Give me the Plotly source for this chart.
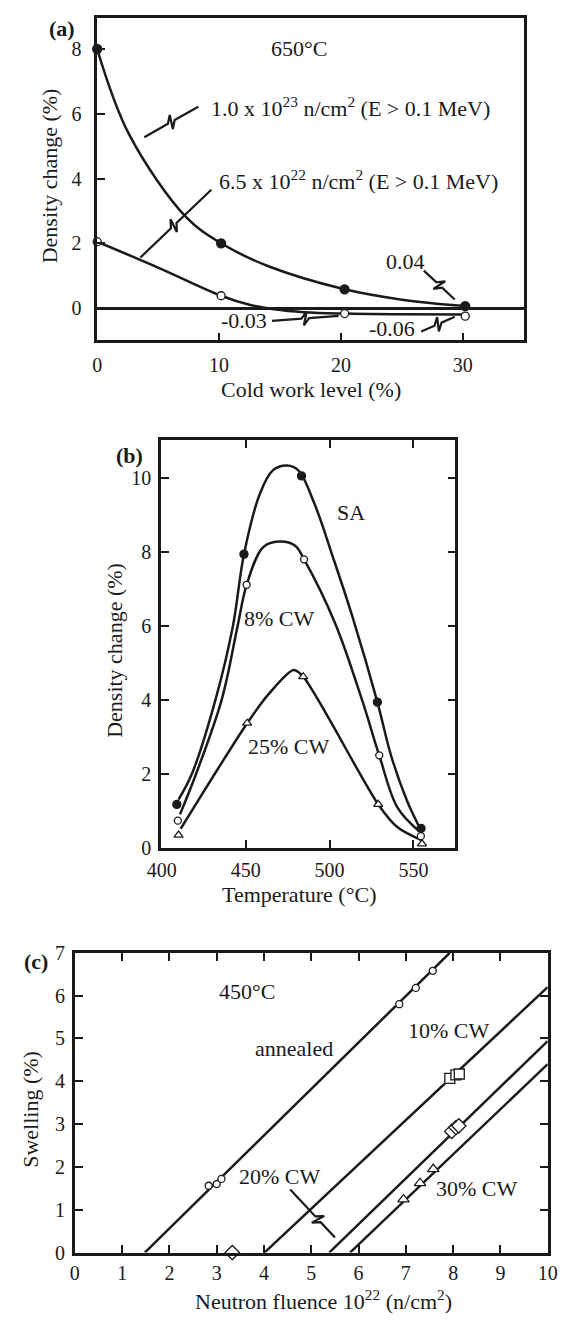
import plotly.graph_objects as go

W, H = 574, 1327
FONT = "Liberation Serif"
INK = "#1a1a1a"

# ---------------- Panel (a): density change vs cold work, 650C ----------------
a_cw = [0, 10.17, 20.3, 30.2]
a_hi = [8.0, 2.0, 0.58, 0.06]        # 1.0e23 n/cm2 (filled)
a_lo = [2.05, 0.38, -0.17, -0.25]    # 6.5e22 n/cm2 (open)
a_hi_curve_x = [0, 2.61, 7.34, 10.17, 14.0, 20.3, 25.0, 30.2]
a_hi_curve_y = [8.0, 5.37, 2.79, 2.0, 1.3, 0.58, 0.26, 0.06]
a_lo_curve_x = [0, 5.0, 10.17, 12.5, 14.5, 17.0, 20.3, 25.0, 30.2]
a_lo_curve_y = [2.05, 1.25, 0.38, 0.1, -0.04, -0.13, -0.17, -0.19, -0.2]

# ---------------- Panel (b): density change vs temperature ----------------
b_sa_t = [409.0, 449.0, 483.3, 528.5, 554.5]
b_sa = [1.17, 7.95, 10.07, 3.94, 0.52]
b_cw8_t = [409.6, 450.6, 484.8, 529.6, 554.4]
b_cw8 = [0.73, 7.12, 7.81, 2.50, 0.31]
b_cw25_t = [410.0, 450.9, 484.3, 529.0, 555.1]
b_cw25 = [0.34, 3.37, 4.63, 1.17, 0.1]
b_sa_curve_x = [410, 418, 432, 442.4, 449, 458.6, 466.2, 474.7, 481.4, 490.9, 502.3, 513.8, 528.5, 536.6, 546.2, 553]
b_sa_curve_y = [1.30, 2.0, 4.0, 6.0, 7.95, 9.6, 10.22, 10.35, 10.22, 9.33, 7.83, 6.23, 3.94, 2.5, 1.26, 0.6]
b_cw8_curve_x = [410.9, 420.5, 435.7, 445.2, 450.6, 460.5, 470.0, 479.5, 484.8, 503.3, 519.5, 529.6, 540.5, 553.4]
b_cw8_curve_y = [0.90, 2.0, 4.0, 6.0, 7.12, 8.14, 8.29, 8.18, 7.81, 6.08, 3.98, 2.50, 1.08, 0.44]
b_cw25_curve_x = [411.3, 450.9, 464.3, 478.6, 484.3, 529.0, 540.5, 554.7]
b_cw25_curve_y = [0.51, 3.37, 4.19, 4.81, 4.63, 1.17, 0.55, 0.2]

# ---------------- Panel (c): swelling vs neutron fluence, 450C ----------------
c_ann_x = [2.83, 3.0, 3.10, 6.86, 7.21, 7.57]
c_ann_y = [1.56, 1.60, 1.72, 5.80, 6.18, 6.58]
c_cw10_x = [7.93, 8.06, 8.13]
c_cw10_y = [4.07, 4.15, 4.17]
c_cw20_x = [3.33, 7.97, 8.06, 8.12]
c_cw20_y = [0.0, 2.83, 2.92, 2.96]
c_cw30_x = [6.95, 7.30, 7.58]
c_cw30_y = [1.24, 1.62, 1.95]
c_ann_line_x, c_ann_line_y = [1.48, 7.93], [0.0, 7.0]
c_cw10_line_x, c_cw10_line_y = [4.01, 10.0], [0.0, 6.2]
c_cw20_line_x, c_cw20_line_y = [5.38, 10.0], [0.0, 4.94]
c_cw30_line_x, c_cw30_line_y = [5.82, 10.0], [0.0, 4.40]

fig = go.Figure()

LW = 2.5

def line(x, y, xa, ya, shape="spline", smoothing=1.0):
    fig.add_trace(go.Scatter(x=x, y=y, mode="lines", xaxis=xa, yaxis=ya,
                             line=dict(color=INK, width=LW, shape=shape, smoothing=smoothing),
                             hoverinfo="skip", showlegend=False, cliponaxis=False))

def marks(x, y, xa, ya, symbol, size, fill):
    fig.add_trace(go.Scatter(x=x, y=y, mode="markers", xaxis=xa, yaxis=ya,
                             marker=dict(symbol=symbol, size=size, color=fill,
                                         line=dict(color=INK, width=1.3)),
                             showlegend=False, cliponaxis=False))

# (a)
line(a_hi_curve_x, a_hi_curve_y, "x", "y")
line(a_lo_curve_x, a_lo_curve_y, "x", "y")
marks(a_cw, a_hi, "x", "y", "circle", 9, INK)
marks(a_cw, a_lo, "x", "y", "circle", 8, "white")

# (b)
line(b_sa_curve_x, b_sa_curve_y, "x2", "y2")
line(b_cw8_curve_x, b_cw8_curve_y, "x2", "y2")
line(b_cw25_curve_x, b_cw25_curve_y, "x2", "y2", smoothing=0.8)
marks(b_sa_t, b_sa, "x2", "y2", "circle", 8, INK)
marks(b_cw8_t, b_cw8, "x2", "y2", "circle", 7, "white")
marks(b_cw25_t, b_cw25, "x2", "y2", "triangle-up", 8, "white")

# (c)
line(c_ann_line_x, c_ann_line_y, "x3", "y3", shape="linear")
line(c_cw10_line_x, c_cw10_line_y, "x3", "y3", shape="linear")
line(c_cw20_line_x, c_cw20_line_y, "x3", "y3", shape="linear")
line(c_cw30_line_x, c_cw30_line_y, "x3", "y3", shape="linear")
marks(c_ann_x, c_ann_y, "x3", "y3", "circle", 7, "white")
marks(c_cw10_x, c_cw10_y, "x3", "y3", "square", 10, "white")
marks(c_cw20_x, c_cw20_y, "x3", "y3", "diamond", 11, "white")
marks(c_cw30_x, c_cw30_y, "x3", "y3", "triangle-up", 10, "white")

# page pixel -> paper coordinates
def PX(px):
    return px / W

def PY(py):
    return 1 - py / H

def clamp(v):
    return min(1.0, max(0.0, v))

def dom_x(l, r):
    return [clamp(PX(l)), clamp(PX(r))]

def dom_y(t, b):
    return [clamp(PY(b)), clamp(PY(t))]

tickfont = dict(family=FONT, size=20, color=INK)

def axis(domain, rng, tickvals, anchor, mirror, standoff, **kw):
    d = dict(domain=domain, range=rng, tickvals=tickvals, anchor=anchor,
             showline=True, linecolor=INK, linewidth=LW, mirror=mirror,
             ticks="inside", ticklen=8, tickwidth=2, tickcolor=INK,
             showgrid=False, zeroline=False, tickfont=tickfont, fixedrange=True,
             ticklabelstandoff=standoff)
    d.update(kw)
    return d

fig.update_layout(
    width=W, height=H, margin=dict(l=0, r=0, t=0, b=0),
    paper_bgcolor="white", plot_bgcolor="white", showlegend=False,
    xaxis=axis(dom_x(86.8, 532), [0, 35], [0, 10, 20, 30], "y", True, 5),
    yaxis=axis(dom_y(6.7, 335), [-1.0, 8.97], [0, 2, 4, 6, 8], "x", True, 9,
               zeroline=True, zerolinecolor=INK, zerolinewidth=LW),
    xaxis2=axis(dom_x(153.3, 460.7), [399.5, 575], [400, 450, 500, 550], "y2", "allticks", 3),
    yaxis2=axis(dom_y(436.7, 850.7), [0, 11.03], [0, 2, 4, 6, 8, 10], "x2", "allticks", 3),
    xaxis3=axis(dom_x(63.5, 557), [0, 10], list(range(0, 11)), "y3", "allticks", 1),
    yaxis3=axis(dom_y(957.7, 1262.5), [0, 7], list(range(0, 8)), "x3", "allticks", 3),
)

def px_ann(text, x, y, size=22, bold=False, xanchor="center", angle=0):
    if bold:
        text = "<b>" + text + "</b>"
    fig.add_annotation(text=text, x=PX(x), y=PY(y), xref="paper", yref="paper",
                       showarrow=False, xanchor=xanchor, yanchor="middle", textangle=angle,
                       font=dict(family=FONT, size=size, color=INK))

# panel labels
px_ann("(a)", 50, 18, bold=True)
px_ann("(b)", 121, 452, bold=True)
px_ann("(c)", 22.5, 967, bold=True)

# axis titles
px_ann("Cold work level (%)", 309.5, 385)
px_ann("Density change (%)", 36.6, 168, angle=-90)
px_ann("Temperature (°C)", 297, 898)
px_ann("Density change (%)", 105, 650, angle=-90)
px_ann("Neutron fluence 10<sup>22</sup> (n/cm<sup>2</sup>)", 322.7, 1311)
px_ann("Swelling (%)", 17, 1117, angle=-90)

# (a) texts
px_ann("650°C", 297.5, 38)
px_ann("1.0 x 10<sup>23</sup> n/cm<sup>2</sup> (E > 0.1 MeV)", 203, 98, xanchor="left")
px_ann("6.5 x 10<sup>22</sup> n/cm<sup>2</sup> (E > 0.1 MeV)", 211.7, 172, xanchor="left")
px_ann("0.04", 409, 255)
px_ann("-0.03", 240, 315)
px_ann("-0.06", 395, 323)
# (b) texts
px_ann("SA", 352, 510)
px_ann("8% CW", 276.7, 618)
px_ann("25% CW", 287, 748)
# (c) texts
px_ann("450°C", 243, 997)
px_ann("annealed", 292.6, 1055)
px_ann("10% CW", 453.5, 1037)
px_ann("20% CW", 278, 1185)
px_ann("30% CW", 483, 1197)

# leader lines with a break squiggle
def leader(p1, p2, h=7.0, f=0.5):
    (x1, y1), (x2, y2) = p1, p2
    dx, dy = x2 - x1, y2 - y1
    L = (dx * dx + dy * dy) ** 0.5
    ux, uy = dx / L, dy / L
    nx, ny = -uy, ux
    mx, my = x1 + dx * f, y1 + dy * f
    pts = [(x1, y1), (mx - 4 * ux, my - 4 * uy),
           (mx + 2 * ux - h * nx, my + 2 * uy - h * ny),
           (mx - 2 * ux + h * nx, my - 2 * uy + h * ny),
           (mx + 4 * ux, my + 4 * uy), (x2, y2)]
    path = "M " + " L ".join(f"{PX(px):.5f},{PY(py):.5f}" for px, py in pts)
    fig.add_shape(type="path", path=path, xref="paper", yref="paper",
                  line=dict(color=INK, width=2.2))

leader((136, 128.3), (192.3, 97.3))
leader((131.9, 250.7), (205.9, 181.7), f=0.47)
leader((427.7, 264), (460, 293.3))
leader((269.2, 315), (338.8, 310))
leader((425, 326), (460, 311))
leader((288.3, 1198.3), (335, 1247.3), f=0.62)

fig.write_html("out.html")
